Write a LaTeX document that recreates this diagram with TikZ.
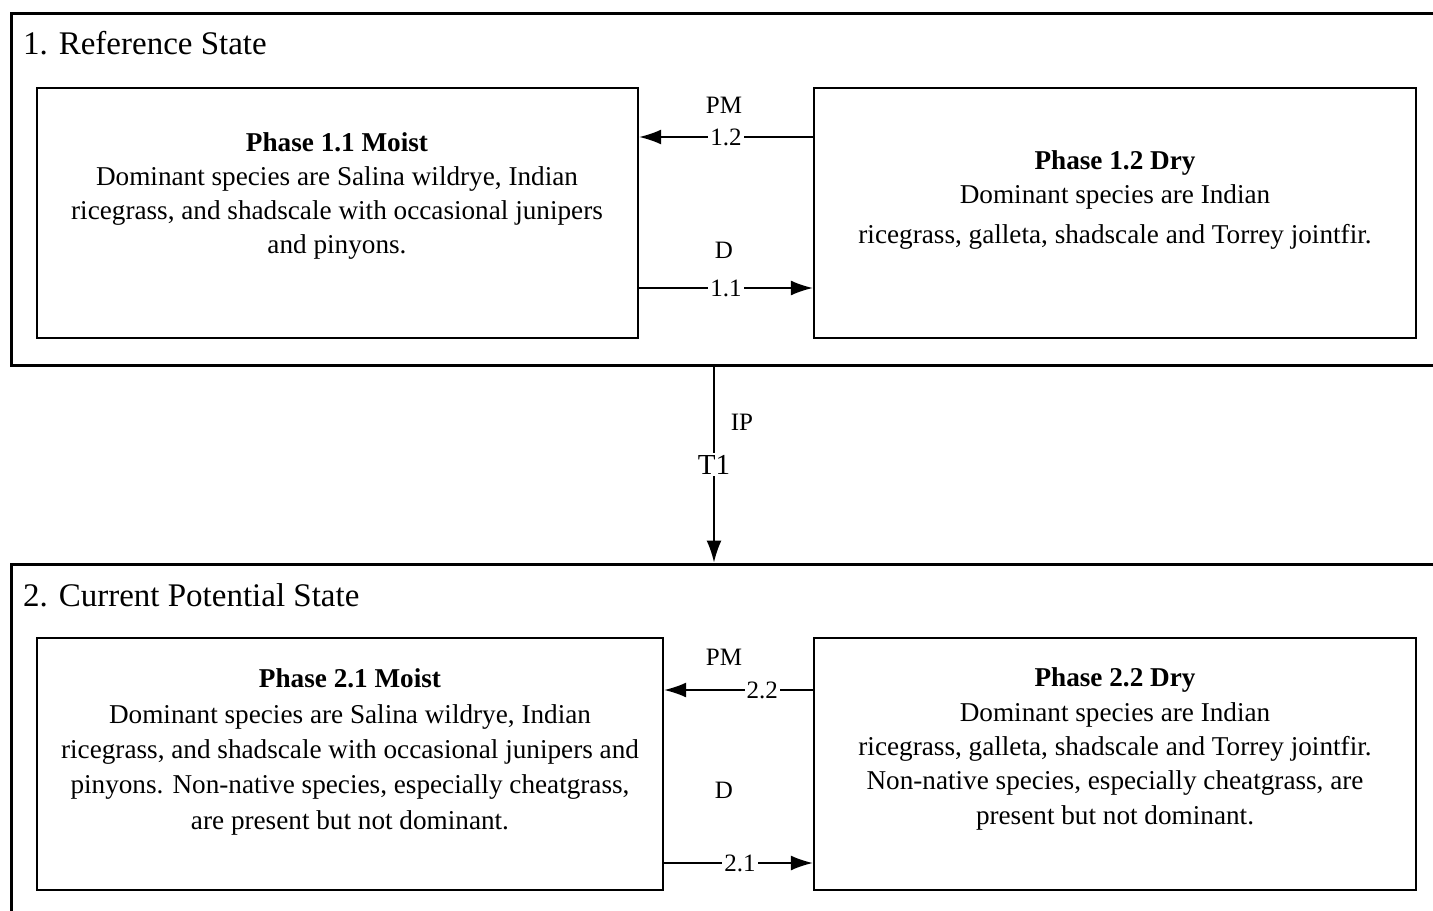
\documentclass[tikz,border=0pt]{standalone}
\usepackage{fontspec}
\setmainfont{Liberation Serif}
\usetikzlibrary{positioning,arrows.meta}

\begin{document}
\begin{tikzpicture}[x=0.5pt,y=-0.5pt,
    state/.style={draw, line width=1.5pt, inner sep=0pt},
    phase/.style={draw, line width=1.2pt, inner sep=0pt},
    desc/.style={align=center, font=\fontsize{13.6}{17}\selectfont},
    arr/.style={-{Latex[length=11pt,width=7.5pt]}, line width=0.8pt},
    lab/.style={fill=white, inner sep=1pt, font=\fontsize{12.5}{14}\selectfont},
    title/.style={anchor=west, font=\fontsize{16.5}{19}\selectfont}]
\useasboundingbox (0,0) rectangle (1433,910);
% reference state
\node[state, minimum width=717pt, minimum height=176pt] (s1) at (728,189) {};
\node[title] (t1) at (16,43) {1. Reference State};
\node[phase, minimum width=300.5pt, minimum height=125pt] (p11) at (337.5,213) {};
\node[phase, minimum width=301pt, minimum height=125pt] (p12) at (1115,213) {};
\node[desc] (d11) at (337,196) {\textbf{Phase 1.1 Moist}\\Dominant species are Salina wildrye, Indian\\ricegrass, and shadscale with occasional junipers\\and pinyons.};
\node[desc] (d12) at (1115,200) {\textbf{Phase 1.2 Dry}\\Dominant species are Indian\\[3pt]ricegrass, galleta, shadscale and Torrey jointfir.};
\draw[arr] ([yshift=38pt]p12.west) -- ([yshift=38pt]p11.east) node[lab, midway] {1.2};
\draw[arr] ([yshift=-37.5pt]p11.east) -- ([yshift=-37.5pt]p12.west) node[lab, midway] {1.1};
\node[lab] (pm1) at (724,105) {PM};
\node[lab] (dd1) at (724,250) {D};
% current potential state
\node[state, minimum width=717pt, minimum height=180.5pt] (s2) at (728,744.5) {};
\node[title] (t2) at (16,595) {2. Current Potential State};
\node[phase, minimum width=313pt, minimum height=126pt] (p21) at (350,764) {};
\node[phase, minimum width=301pt, minimum height=126pt] (p22) at (1115,764) {};
\node[desc, font=\fontsize{13.6}{17.7}\selectfont] (d21) at (350,752) {\textbf{Phase 2.1 Moist}\\Dominant species are Salina wildrye, Indian\\ricegrass, and shadscale with occasional junipers and\\pinyons. Non-native species, especially cheatgrass,\\are present but not dominant.};
\node[desc, font=\fontsize{13.6}{17.2}\selectfont] (d22) at (1115,749) {\textbf{Phase 2.2 Dry}\\Dominant species are Indian\\ricegrass, galleta, shadscale and Torrey jointfir.\\Non-native species, especially cheatgrass, are\\present but not dominant.};
\draw[arr] ([yshift=37pt]p22.west) -- ([yshift=37pt]p21.east) node[lab, pos=0.34] {2.2};
\draw[arr] ([yshift=-49.5pt]p21.east) -- ([yshift=-49.5pt]p22.west) node[lab, pos=0.51] {2.1};
\node[lab] (pm2) at (724,657) {PM};
\node[lab] (dd2) at (724,790) {D};
% transition
\draw[arr] ([xshift=-7pt]s1.south) -- ([xshift=-7pt]s2.north) node[lab, midway, font=\fontsize{14.5}{16}\selectfont] {T1};
\node[lab] (ip) at (742,422) {IP};
\end{tikzpicture}
\end{document}
